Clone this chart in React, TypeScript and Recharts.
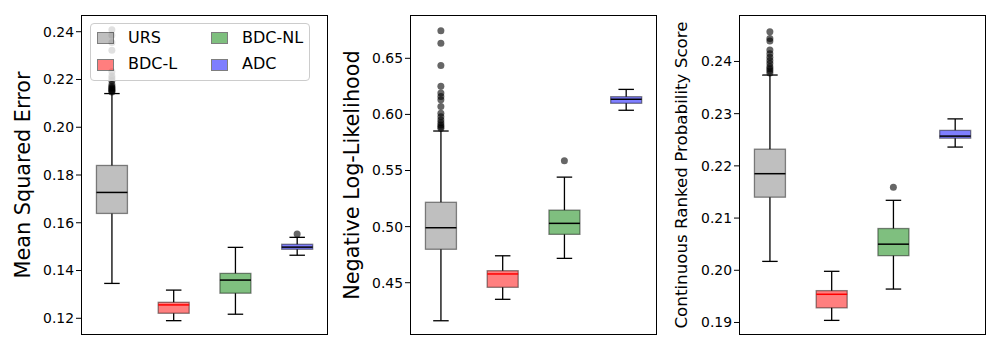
import { Bar, ComposedChart, Scatter, XAxis, YAxis } from 'recharts';

const CATEGORIES = ['URS', 'BDC-L', 'BDC-NL', 'ADC'];
const FILLS = ['#808080', '#ff0000', '#008000', '#0000ff'];
const MEDIAN_COLORS = ['#000000', '#ff0000', '#000000', '#000000'];

// Mean squared error
const MSE_LOW = [0.1346, 0.119, 0.1217, 0.1464];
const MSE_Q1 = [0.1639, 0.1221, 0.1305, 0.1489];
const MSE_MED = [0.1727, 0.1256, 0.136, 0.1498];
const MSE_Q3 = [0.184, 0.1267, 0.1388, 0.151];
const MSE_HIGH = [0.2141, 0.1318, 0.1497, 0.1539];
const MSE_OUTLIERS = [
  [0.2148, 0.2152, 0.2156, 0.216, 0.2165, 0.217, 0.2178, 0.2195, 0.2205, 0.2215, 0.2232, 0.2322, 0.2355, 0.2385, 0.2408],
  [],
  [],
  [0.1553]
];
const MSE_TICKS = [0.12, 0.14, 0.16, 0.18, 0.2, 0.22, 0.24];
const MSE_DOMAIN = [0.113, 0.247];

// Negative log-likelihood
const NLL_LOW = [0.4161, 0.4352, 0.4717, 0.6037];
const NLL_Q1 = [0.4798, 0.4459, 0.4931, 0.6099];
const NLL_MED = [0.499, 0.4578, 0.5029, 0.6135];
const NLL_Q3 = [0.5217, 0.4607, 0.5147, 0.6158];
const NLL_HIGH = [0.5852, 0.474, 0.5441, 0.6223];
const NLL_OUTLIERS = [
  [0.6746, 0.6634, 0.6437, 0.625, 0.619, 0.616, 0.613, 0.607, 0.601, 0.598, 0.595, 0.5925, 0.5906, 0.589, 0.5877],
  [],
  [0.5587],
  []
];
const NLL_TICKS = [0.45, 0.5, 0.55, 0.6, 0.65];
const NLL_DOMAIN = [0.4034, 0.6886];

// Continuous ranked probability score
const CRPS_LOW = [0.2017, 0.1904, 0.1964, 0.2236];
const CRPS_Q1 = [0.214, 0.1928, 0.2028, 0.2253];
const CRPS_MED = [0.2185, 0.1954, 0.205, 0.2257];
const CRPS_Q3 = [0.2232, 0.1961, 0.208, 0.2268];
const CRPS_HIGH = [0.2374, 0.1998, 0.2134, 0.229];
const CRPS_OUTLIERS = [
  [0.2457, 0.2444, 0.2439, 0.2422, 0.2415, 0.2408, 0.2402, 0.2396, 0.239, 0.2386, 0.2382, 0.2378],
  [],
  [0.2159],
  []
];
const CRPS_TICKS = [0.19, 0.2, 0.21, 0.22, 0.23, 0.24];
const CRPS_DOMAIN = [0.1876, 0.2489];

const FONT = '"DejaVu Sans", sans-serif';
const PLOT_TOP = 15;
const PLOT_H = 320;
const PLOT_W = 247;
const AXIS_W = 70;

function BoxShape(props: any) {
  const { x, y, width, height, payload } = props;
  const top = Math.min(y, y + height);
  const h = Math.abs(height);
  const { low, q1, med, q3, high, idx } = payload;
  const py = (v: number) => top + ((high - v) / (high - low)) * h;
  const cx = x + width / 2;
  const cap = width / 4;
  return (
    <g>
      <line x1={cx} x2={cx} y1={py(high)} y2={py(q3)} stroke='#000' strokeWidth={1.3} />
      <line x1={cx} x2={cx} y1={py(q1)} y2={py(low)} stroke='#000' strokeWidth={1.3} />
      <line x1={cx - cap} x2={cx + cap} y1={py(high)} y2={py(high)} stroke='#000' strokeWidth={1.3} />
      <line x1={cx - cap} x2={cx + cap} y1={py(low)} y2={py(low)} stroke='#000' strokeWidth={1.3} />
      <rect
        x={x}
        y={py(q3)}
        width={width}
        height={py(q1) - py(q3)}
        fill={FILLS[idx]}
        fillOpacity={0.5}
        stroke='#000'
        strokeOpacity={0.45}
        strokeWidth={1.3}
      />
      <line x1={x} x2={x + width} y1={py(med)} y2={py(med)} stroke={MEDIAN_COLORS[idx]} strokeWidth={1.5} />
    </g>
  );
}

function OutlierDot(props: any) {
  return <circle cx={props.cx} cy={props.cy} r={3.5} fill='#000' fillOpacity={0.6} />;
}

type PanelProps = {
  left: number;
  low: number[];
  q1: number[];
  med: number[];
  q3: number[];
  high: number[];
  outliers: number[][];
  ticks: number[];
  domain: number[];
};

function BoxPanel({ left, low, q1, med, q3, high, outliers, ticks, domain }: PanelProps) {
  const rows = CATEGORIES.map((name, i) => ({
    name,
    idx: i,
    range: [low[i], high[i]],
    low: low[i],
    q1: q1[i],
    med: med[i],
    q3: q3[i],
    high: high[i]
  }));
  const outlierRows = CATEGORIES.flatMap((name, i) => outliers[i].map((v) => ({ name, v })));

  return (
    <>
      <div style={{ position: 'absolute', left: left - AXIS_W, top: 0 }}>
        <ComposedChart
          width={AXIS_W + PLOT_W + 1}
          height={350}
          data={rows}
          margin={{ top: PLOT_TOP, right: 1, bottom: 350 - PLOT_TOP - PLOT_H, left: 0 }}
          barCategoryGap='25%'
        >
          <XAxis dataKey='name' type='category' hide allowDuplicatedCategory={false} />
          <YAxis
            type='number'
            domain={domain}
            ticks={ticks}
            interval={0}
            allowDataOverflow
            width={AXIS_W}
            axisLine={false}
            tickSize={5}
            tickLine={{ stroke: '#000' }}
            tick={{ fill: '#000', fontSize: 13.9, fontFamily: FONT }}
            tickFormatter={(v: number) => v.toFixed(2)}
          />
          <Bar dataKey='range' shape={BoxShape} isAnimationActive={false} />
          <Scatter data={outlierRows} dataKey='v' shape={OutlierDot} isAnimationActive={false} />
        </ComposedChart>
      </div>
      <div
        style={{
          position: 'absolute',
          left,
          top: PLOT_TOP,
          width: PLOT_W,
          height: PLOT_H,
          border: '1px solid #000',
          boxSizing: 'border-box',
          pointerEvents: 'none'
        }}
      />
    </>
  );
}

function Legend() {
  return (
    <div
      style={{
        position: 'absolute',
        left: 90,
        top: 23,
        width: 220,
        height: 58,
        background: 'rgba(255,255,255,0.8)',
        border: '1px solid #cccccc',
        borderRadius: 4,
        boxSizing: 'border-box',
        fontFamily: FONT,
        fontSize: 16
      }}
    >
      {CATEGORIES.map((name, i) => {
        const col = i < 2 ? 0 : 1;
        const row = i % 2;
        return (
          <div key={name}>
            <div
              style={{
                position: 'absolute',
                left: col === 0 ? 6 : 120,
                top: row === 0 ? 8 : 35,
                width: 17,
                height: 12,
                background: FILLS[i],
                opacity: 0.5,
                border: '1px solid #000',
                boxSizing: 'border-box'
              }}
            />
            <div
              style={{
                position: 'absolute',
                left: col === 0 ? 37 : 151,
                top: row === 0 ? 4 : 30,
                lineHeight: '20px'
              }}
            >
              {name}
            </div>
          </div>
        );
      })}
    </div>
  );
}

const TITLES = [
  { text: 'Mean Squared Error', x: 23, size: 20.8 },
  { text: 'Negative Log-Likelihood', x: 352, size: 20.8 },
  { text: 'Continuous Ranked Probability Score', x: 681, size: 16.7 }
];

export default function App() {
  return (
    <div style={{ position: 'absolute', left: 0, top: 0, width: 1000, height: 350, background: '#fff', overflow: 'hidden' }}>
      <BoxPanel left={81} low={MSE_LOW} q1={MSE_Q1} med={MSE_MED} q3={MSE_Q3} high={MSE_HIGH} outliers={MSE_OUTLIERS} ticks={MSE_TICKS} domain={MSE_DOMAIN} />
      <BoxPanel left={410} low={NLL_LOW} q1={NLL_Q1} med={NLL_MED} q3={NLL_Q3} high={NLL_HIGH} outliers={NLL_OUTLIERS} ticks={NLL_TICKS} domain={NLL_DOMAIN} />
      <BoxPanel left={739} low={CRPS_LOW} q1={CRPS_Q1} med={CRPS_MED} q3={CRPS_Q3} high={CRPS_HIGH} outliers={CRPS_OUTLIERS} ticks={CRPS_TICKS} domain={CRPS_DOMAIN} />
      <svg width={1000} height={350} style={{ position: 'absolute', left: 0, top: 0, pointerEvents: 'none' }}>
        {TITLES.map((t) => (
          <text
            key={t.text}
            x={t.x}
            y={175}
            transform={`rotate(-90 ${t.x} 175)`}
            textAnchor='middle'
            dominantBaseline='central'
            fontFamily={FONT}
            fontSize={t.size}
            fill='#000'
          >
            {t.text}
          </text>
        ))}
      </svg>
      <Legend />
    </div>
  );
}
